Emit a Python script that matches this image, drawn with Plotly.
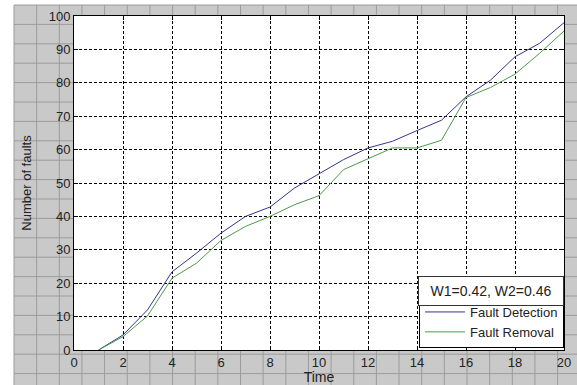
import plotly.graph_objects as go

# ---- data ----
time = [1, 2, 3, 4, 5, 6, 7, 8, 9, 10, 11, 12, 13, 14, 15, 16, 17, 18, 19, 20]
fault_detection = [0, 4.5, 12, 23.4, 29, 35, 40, 42.8, 48.5, 52.7, 57, 60.5,
                   62.5, 65.7, 68.8, 75.8, 80.8, 87.8, 91.8, 98]
fault_removal = [0, 4.0, 10.2, 21.5, 26, 32.8, 37, 40, 43.5, 46.2, 54, 57.3,
                 60.5, 60.5, 62.8, 75.6, 78.6, 82.6, 88.8, 95.5]
series_names = ["Fault Detection", "Fault Removal"]
x_ticks = list(range(0, 21, 2))
y_ticks = list(range(0, 101, 10))
note_text = "W1=0.42, W2=0.46"

W, H = 577, 385
L, R, T, B = 74, 564, 16, 350  # plot area in pixels


def px(x):
    return (x - L) / (R - L)


def py(y):
    return (B - y) / (B - T)


FONT = "Liberation Sans, Arial, sans-serif"
TXT = "#222222"

fig = go.Figure()
fig.add_trace(go.Scatter(x=time, y=fault_detection, mode="lines", name=series_names[0],
                         line=dict(color="#34348e", width=1)))
fig.add_trace(go.Scatter(x=time, y=fault_removal, mode="lines", name=series_names[1],
                         line=dict(color="#4c9a4c", width=1)))

# ---- graph-paper style background outside the axes ----
shapes = []
shapes.append(dict(type="rect", xref="paper", yref="paper", x0=px(14), x1=px(W + 5),
                   y0=py(5), y1=py(H + 5), fillcolor="#c9c9c9", line=dict(width=0),
                   layer="below"))
gx = 14.0
while gx < W:
    shapes.append(dict(type="line", xref="paper", yref="paper", x0=px(gx), x1=px(gx),
                       y0=py(5), y1=py(H + 5), line=dict(color="#9c9c9c", width=1),
                       layer="below"))
    gx += 22.65
gy = 5.0
while gy < H:
    shapes.append(dict(type="line", xref="paper", yref="paper", x0=px(14), x1=px(W + 5),
                       y0=py(gy), y1=py(gy), line=dict(color="#9c9c9c", width=1),
                       layer="below"))
    gy += 19.4
shapes.append(dict(type="rect", xref="paper", yref="paper", x0=0, x1=1, y0=0, y1=1,
                   fillcolor="white", line=dict(width=0), layer="below"))

fig.update_layout(
    width=W, height=H,
    margin=dict(l=L, r=W - R, t=T, b=H - B, autoexpand=False),
    paper_bgcolor="white",
    plot_bgcolor="rgba(0,0,0,0)",
    font=dict(family=FONT, size=13, color=TXT),
    shapes=shapes,
    showlegend=True,
    legend=dict(x=1, xanchor="right", y=0.006, yanchor="bottom",
                bgcolor="white", bordercolor="black", borderwidth=1,
                font=dict(family=FONT, size=13, color=TXT),
                tracegroupgap=0, itemwidth=40),
    annotations=[dict(text=note_text, xref="paper", yref="paper", x=1.0, xanchor="right",
                      y=py(306), yanchor="bottom", showarrow=False, width=144, height=28,
                      bgcolor="white", bordercolor="#333333", borderwidth=1, borderpad=0,
                      font=dict(family=FONT, size=14, color=TXT))],
)

fig.update_xaxes(range=[0, 20], tickvals=x_ticks, ticktext=[str(v) for v in x_ticks],
                 showgrid=True, gridcolor="black", griddash="3px,2px", gridwidth=1,
                 showline=True, linecolor="black", linewidth=1, mirror="ticks",
                 ticks="inside", ticklen=4, tickcolor="black", zeroline=False,
                 automargin=False, tickfont=dict(size=13),
                 title=dict(text="Time", standoff=0,
                            font=dict(family=FONT, size=14, color=TXT)))
fig.update_yaxes(range=[0, 100], tickvals=y_ticks, ticktext=[str(v) for v in y_ticks],
                 showgrid=True, gridcolor="black", griddash="3px,2px", gridwidth=1,
                 showline=True, linecolor="black", linewidth=1, mirror="ticks",
                 ticks="inside", ticklen=4, tickcolor="black", zeroline=False,
                 automargin=False, tickfont=dict(size=13),
                 title=dict(text="Number of faults", standoff=14,
                            font=dict(family=FONT, size=13, color=TXT)))

fig.write_html("out.html", config={"displayModeBar": False},
               post_script="document.body.style.margin='0';document.body.style.padding='0';")
